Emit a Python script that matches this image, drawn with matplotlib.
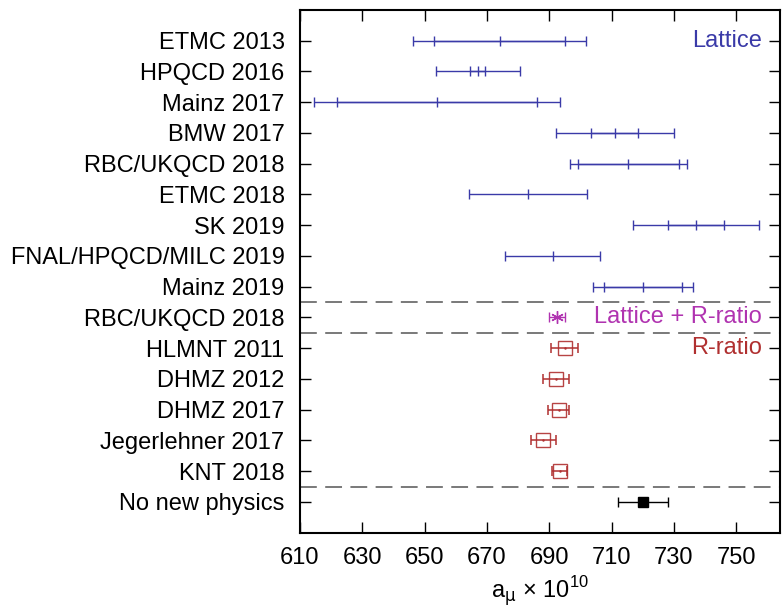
import matplotlib
matplotlib.use('Agg')
import matplotlib.pyplot as plt

plt.rcParams['font.family'] = ['Liberation Sans', 'DejaVu Sans']
plt.rcParams['mathtext.fontset'] = 'custom'
plt.rcParams['mathtext.rm'] = 'Liberation Sans'
plt.rcParams['mathtext.it'] = 'DejaVu Sans'

# Lattice results: centre, inner (stat) error, total error
lat_names = ['ETMC 2013', 'HPQCD 2016', 'Mainz 2017', 'BMW 2017', 'RBC/UKQCD 2018',
             'ETMC 2018', 'SK 2019', 'FNAL/HPQCD/MILC 2019', 'Mainz 2019']
lat_val = [674.1, 667.1, 654.0, 711.0, 715.4, 683.1, 737.1, 691.1, 720.1]
lat_inner = [21.0, 2.4, 32.0, 7.5, 16.3, 0.0, 9.0, 0.0, 12.5]
lat_total = [27.7, 13.4, 39.6, 18.9, 18.7, 18.9, 20.2, 15.2, 16.0]

# Lattice + R-ratio
mix_names = ['RBC/UKQCD 2018']
mix_val = [692.5]
mix_err = [2.6]

# R-ratio
rr_names = ['HLMNT 2011', 'DHMZ 2012', 'DHMZ 2017', 'Jegerlehner 2017', 'KNT 2018']
rr_val = [694.9, 692.3, 693.1, 688.1, 693.3]
rr_err = [4.3, 4.2, 3.4, 4.1, 2.5]

# No new physics
nnp_names = ['No new physics']
nnp_val = [720.0]
nnp_err = [8.0]

blue = '#3a3aa8'
magenta = '#b033b0'
red = '#b03030'

fig = plt.figure(figsize=(7.83, 6.08), dpi=100)
ax = fig.add_axes([0.383, 0.1238, 0.613, 0.8598])

names = lat_names + mix_names + rr_names + nnp_names
ypos = list(range(1, len(names) + 1))
y_lat = ypos[:len(lat_names)]
y_mix = ypos[len(lat_names):len(lat_names) + 1]
y_rr = ypos[len(lat_names) + 1:len(lat_names) + 1 + len(rr_names)]
y_nnp = ypos[-1:]

cap = 3.6

# lattice: total and inner error bars
ax.errorbar(lat_val, y_lat, xerr=lat_total, fmt='none', ecolor=blue,
            elinewidth=1.0, capsize=cap, capthick=1.0)
inner_x = [v for v, e in zip(lat_val, lat_inner) if e > 0]
inner_y = [y for y, e in zip(y_lat, lat_inner) if e > 0]
inner_e = [e for e in lat_inner if e > 0]
ax.errorbar(inner_x, inner_y, xerr=inner_e, fmt='none', ecolor=blue,
            elinewidth=1.0, capsize=cap, capthick=1.0)
ax.plot(lat_val, y_lat, linestyle='none', marker='|', markersize=7.2,
        color=blue, markeredgewidth=1.0)

ax.errorbar(mix_val, y_mix, xerr=mix_err, fmt='none', ecolor=magenta,
            elinewidth=1.0, capsize=cap, capthick=1.0)
ax.plot(mix_val, y_mix, linestyle='none', marker=(6, 2, 0), markersize=9,
        color=magenta, markeredgewidth=1.0)

ax.errorbar(rr_val, y_rr, xerr=rr_err, fmt='none', ecolor=red,
            elinewidth=1.1, capsize=cap, capthick=1.1)
ax.plot(rr_val, y_rr, linestyle='none', marker='s', markersize=10,
        markerfacecolor='none', markeredgecolor=red, markeredgewidth=1.0, alpha=0.9)
ax.plot(rr_val, y_rr, linestyle='none', marker='.', markersize=1.5, color=red)

ax.errorbar(nnp_val, y_nnp, xerr=nnp_err, fmt='none', ecolor='black',
            elinewidth=1.0, capsize=cap, capthick=1.0)
ax.plot(nnp_val, y_nnp, linestyle='none', marker='s', markersize=7.5, color='black')

# separators
for yl in [len(lat_names) + 0.5, len(lat_names) + 1.5, len(names) - 0.5]:
    ax.axhline(yl, color='#555555', linewidth=1.1, linestyle=(0, (11, 5.5)))

ax.text(0.962, y_lat[0], 'Lattice', color=blue, fontsize=17, ha='right', va='center',
        transform=ax.get_yaxis_transform())
ax.text(0.962, y_mix[0], 'Lattice + R-ratio', color=magenta, fontsize=17,
        ha='right', va='center', transform=ax.get_yaxis_transform())
ax.text(0.962, y_rr[0], 'R-ratio', color=red, fontsize=17, ha='right', va='center',
        transform=ax.get_yaxis_transform())

ax.set_xlim(610, 764)
ax.set_ylim(len(names) + 1, 0)
ax.set_xticks(range(610, 751, 20))
ax.set_yticks(ypos)
ax.set_yticklabels(names)
ax.tick_params(axis='both', direction='in', length=8, width=1.0, labelsize=17,
               top=True, right=True)
ax.tick_params(axis='y', pad=11)
ax.tick_params(axis='x', pad=10)
for s in ax.spines.values():
    s.set_linewidth(1.5)

ax.set_xlabel(r'a$_{\mu}$ × 10$^{10}$', fontsize=17, labelpad=4)

fig.savefig('out.png', dpi=100)
